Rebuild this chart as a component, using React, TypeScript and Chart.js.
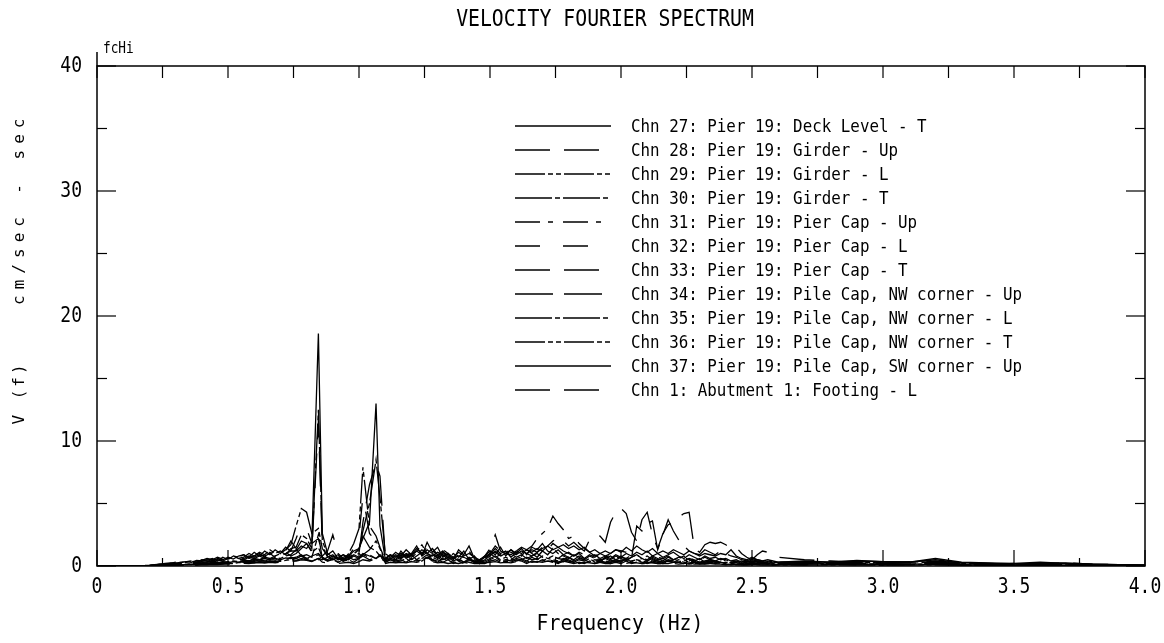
import React, { useEffect, useRef } from 'react';
import { Chart, registerables } from 'chart.js';

Chart.register(...registerables);

// Frequency grid (Hz)
const freqHz = [
  0, 0.1, 0.2, 0.22, 0.24, 0.26, 0.28, 0.3, 0.32, 0.34,
  0.36, 0.38, 0.4, 0.42, 0.44, 0.46, 0.48, 0.5, 0.52, 0.54,
  0.56, 0.58, 0.6, 0.62, 0.64, 0.66, 0.68, 0.7, 0.72, 0.74,
  0.76, 0.78, 0.8, 0.82, 0.845, 0.86, 0.88, 0.9, 0.92, 0.94,
  0.96, 0.98, 1.0, 1.015, 1.04, 1.065, 1.08, 1.1, 1.12, 1.14,
  1.16, 1.18, 1.2, 1.22, 1.24, 1.26, 1.28, 1.3, 1.32, 1.34,
  1.36, 1.38, 1.4, 1.42, 1.44, 1.46, 1.48, 1.5, 1.52, 1.54,
  1.56, 1.58, 1.6, 1.62, 1.64, 1.66, 1.68, 1.7, 1.72, 1.74,
  1.76, 1.78, 1.8, 1.82, 1.84, 1.86, 1.88, 1.9, 1.92, 1.94,
  1.96, 1.98, 2.0, 2.02, 2.04, 2.06, 2.08, 2.1, 2.12, 2.14,
  2.16, 2.18, 2.2, 2.22, 2.24, 2.26, 2.28, 2.3, 2.32, 2.34,
  2.36, 2.38, 2.4, 2.42, 2.44, 2.46, 2.48, 2.5, 2.52, 2.54,
  2.56, 2.58, 2.6, 2.7, 2.8, 2.9, 3.0, 3.1, 3.2, 3.3,
  3.4, 3.5, 3.6, 3.7, 3.8, 3.9, 4.0,
];

// Chn 27: Pier 19: Deck Level - T
const chn27 = [
  0, 0, 0.05, 0.1, 0.15, 0.2, 0.25, 0.2, 0.3, 0.35,
  0.3, 0.45, 0.4, 0.5, 0.35, 0.6, 0.5, 0.7, 0.55, 0.8,
  0.9, 0.7, 1.1, 0.8, 1.2, 0.9, 1.3, 1.0, 1.5, 1.2,
  1.2, 1.6, 1.4, 2.0, 18.6, 2.6, 1.0, 0.7, 0.9, 0.5,
  0.8, 1.2, 1.4, 2.2, 3.5, 13.0, 3.2, 0.6, 0.9, 0.5,
  1.2, 0.7, 1.0, 1.6, 0.8, 1.9, 1.1, 1.5, 0.7, 1.0,
  0.5, 1.3, 0.9, 1.6, 0.6, 0.4, 0.8, 1.2, 0.9, 1.5,
  0.8, 1.3, 1.0, 1.4, 0.9, 1.5, 1.3, 1.8, 1.2, 1.0,
  1.3, 0.9, 1.1, 0.8, 1.0, 0.6, 0.9, 0.7, 1.0, 0.8,
  0.6, 0.9, 0.7, 1.0, 0.8, 1.1, 0.9, 1.2, 0.8, 1.0,
  0.7, 0.9, 1.1, 0.8, 0.6, 0.9, 0.7, 0.5, 0.8, 0.6,
  0.7, 0.5, 0.6, 0.4, 0.5, 0.3, 0.4, 0.3, 0.4, 0.3,
  0.35, 0.25, 0.3, 0.35, 0.3, 0.4, 0.35, 0.3, 0.5, 0.25,
  0.2, 0.15, 0.2, 0.25, 0.15, 0.1, 0.05,
];

// Chn 28: Pier 19: Girder - Up
const chn28 = [
  0, 0, 0.02, 0.04, 0.05, 0.08, 0.1, 0.08, 0.12, 0.15,
  0.1, 0.2, 0.15, 0.25, 0.2, 0.3, 0.25, 0.35, 0.3, 0.4,
  0.5, 0.4, 0.6, 0.5, 0.7, 0.6, 0.8, 0.7, 1.2, 2.0,
  1.4, 0.8, 0.6, 0.9, 0.5, 0.8, 1.2, 2.5, 1.0, 0.6,
  0.5, 0.8, 0.6, 0.9, 0.7, 0.5, 0.8, 0.6, 0.9, 0.7,
  1.0, 0.8, 1.2, 0.9, 1.3, 1.0, 0.8, 1.1, 0.9, 0.7,
  0.9, 0.6, 0.8, 1.0, 0.7, 0.5, 0.8, 1.4, 2.5, 1.2,
  1.0, 1.3, 0.9, 1.2, 1.0, 0.8, 1.1, 1.4, 1.6, 2.0,
  2.3, 2.0, 1.6, 1.9, 1.5, 1.2, 2.1, 2.5, 2.4, 1.9,
  3.5, 4.3, 4.6, 4.2, 2.7, 2.0, 3.7, 4.3, 2.5, 1.4,
  2.6, 3.3, 3.5, 3.9, 4.2, 4.3, 1.4, 1.1, 1.7, 1.9,
  1.8, 1.9, 1.7, 1.4, 1.5, 1.0, 0.7, 0.5, 0.9, 1.2,
  1.1, 0.9, 0.7, 0.5, 0.4, 0.3, 0.35, 0.3, 0.4, 0.25,
  0.2, 0.15, 0.2, 0.25, 0.15, 0.1, 0.05,
];

// Chn 29: Pier 19: Girder - L
const chn29 = [
  0, 0, 0.04, 0.08, 0.15, 0.12, 0.2, 0.3, 0.25, 0.35,
  0.4, 0.3, 0.45, 0.6, 0.5, 0.7, 0.55, 0.6, 0.8, 0.7,
  0.9, 0.6, 0.8, 1.0, 0.7, 1.1, 0.8, 1.0, 1.3, 1.7,
  3.2, 4.6, 4.3, 2.6, 3.0, 1.4, 0.8, 0.5, 0.7, 0.4,
  1.0, 1.8, 3.0, 7.9, 3.2, 2.4, 1.5, 0.5, 0.8, 0.6,
  1.0, 0.6, 0.9, 0.5, 0.8, 1.1, 0.6, 0.9, 0.5, 0.7,
  0.4, 0.6, 0.3, 0.7, 0.5, 0.3, 0.4, 0.6, 0.8, 0.5,
  0.7, 0.5, 0.8, 0.6, 0.4, 0.7, 0.5, 0.8, 0.6, 0.5,
  0.4, 0.6, 0.5, 0.3, 0.5, 0.4, 0.6, 0.3, 0.5, 0.4,
  0.3, 0.5, 0.4, 0.6, 0.3, 0.5, 0.4, 0.3, 0.5, 0.4,
  0.3, 0.4, 0.3, 0.5, 0.3, 0.2, 0.4, 0.3, 0.2, 0.3,
  0.2, 0.3, 0.2, 0.3, 0.2, 0.15, 0.2, 0.25, 0.2, 0.15,
  0.2, 0.15, 0.2, 0.15, 0.2, 0.15, 0.1, 0.15, 0.2, 0.1,
  0.1, 0.08, 0.1, 0.06, 0.05, 0.04, 0.03,
];

// Chn 30: Pier 19: Girder - T
const chn30 = [
  0, 0, 0.05, 0.08, 0.12, 0.15, 0.2, 0.25, 0.2, 0.3,
  0.4, 0.3, 0.5, 0.45, 0.6, 0.4, 0.7, 0.5, 0.8, 0.6,
  0.7, 1.0, 0.8, 1.1, 0.9, 1.3, 1.0, 1.2, 0.9, 1.4,
  1.5, 2.5, 2.2, 1.4, 12.5, 2.0, 0.9, 1.2, 0.6, 0.9,
  0.7, 1.0, 1.3, 2.8, 5.0, 8.5, 5.5, 1.0, 0.7, 1.1,
  0.8, 1.3, 0.9, 1.2, 1.7, 1.0, 1.4, 0.9, 1.2, 0.6,
  1.0, 0.7, 1.2, 0.5, 0.8, 0.3, 0.6, 0.9, 1.4, 1.0,
  1.2, 0.7, 1.1, 0.8, 1.3, 1.0, 0.7, 1.2, 0.9, 1.4,
  1.0, 0.8, 0.6, 0.9, 0.7, 0.5, 0.8, 0.6, 0.4, 0.7,
  0.5, 0.8, 0.6, 0.4, 0.7, 0.9, 0.6, 0.5, 0.8, 0.6,
  0.4, 0.7, 0.5, 0.6, 0.8, 0.5, 0.4, 0.6, 0.3, 0.5,
  0.4, 0.3, 0.5, 0.3, 0.4, 0.2, 0.3, 0.4, 0.3, 0.2,
  0.3, 0.2, 0.25, 0.3, 0.2, 0.3, 0.25, 0.35, 0.3, 0.2,
  0.15, 0.2, 0.1, 0.15, 0.1, 0.08, 0.05,
];

// Chn 31: Pier 19: Pier Cap - Up
const chn31 = [
  0, 0, 0.02, 0.03, 0.05, 0.07, 0.06, 0.1, 0.08, 0.12,
  0.15, 0.12, 0.18, 0.2, 0.15, 0.25, 0.2, 0.3, 0.25, 0.35,
  0.3, 0.4, 0.35, 0.5, 0.4, 0.55, 0.45, 0.6, 0.5, 0.7,
  0.6, 0.8, 0.5, 0.7, 0.9, 0.6, 0.8, 0.5, 0.7, 0.9,
  0.6, 0.8, 1.0, 0.7, 0.9, 0.6, 0.8, 0.5, 0.9, 1.1,
  0.8, 1.2, 0.9, 1.4, 1.0, 1.5, 1.2, 0.9, 1.3, 1.0,
  0.7, 1.1, 0.8, 1.2, 0.6, 0.4, 0.7, 1.0, 1.6, 1.2,
  1.0, 1.4, 1.2, 1.5, 1.3, 1.6, 2.2, 2.6, 3.0, 4.0,
  3.4, 2.9, 2.2, 2.4, 1.8, 1.4, 1.1, 0.8, 1.0, 0.7,
  0.9, 0.6, 0.8, 0.5, 0.7, 0.9, 0.6, 0.8, 0.5, 0.7,
  0.6, 0.8, 0.5, 0.7, 0.6, 0.4, 0.6, 0.5, 0.7, 0.5,
  0.4, 0.6, 0.5, 0.4, 0.3, 0.4, 0.3, 0.5, 0.4, 0.3,
  0.3, 0.4, 0.3, 0.25, 0.3, 0.2, 0.3, 0.25, 0.2, 0.15,
  0.15, 0.1, 0.15, 0.1, 0.08, 0.05, 0.03,
];

// Chn 32: Pier 19: Pier Cap - L
const chn32 = [
  0, 0, 0.02, 0.05, 0.08, 0.1, 0.12, 0.15, 0.2, 0.18,
  0.25, 0.3, 0.25, 0.35, 0.4, 0.3, 0.45, 0.5, 0.4, 0.55,
  0.5, 0.7, 0.6, 0.8, 0.6, 0.9, 0.7, 0.8, 1.0, 1.2,
  2.2, 3.3, 3.0, 1.8, 2.2, 1.0, 0.6, 0.8, 0.5, 0.6,
  0.8, 1.4, 2.4, 5.6, 2.6, 2.0, 1.2, 0.4, 0.6, 0.5,
  0.7, 0.5, 0.8, 0.4, 0.6, 0.9, 0.5, 0.7, 0.4, 0.6,
  0.3, 0.5, 0.3, 0.6, 0.4, 0.2, 0.3, 0.5, 0.6, 0.4,
  0.5, 0.4, 0.6, 0.5, 0.3, 0.5, 0.4, 0.6, 0.5, 0.4,
  0.3, 0.5, 0.4, 0.3, 0.4, 0.3, 0.5, 0.3, 0.4, 0.3,
  0.3, 0.4, 0.3, 0.5, 0.3, 0.4, 0.3, 0.2, 0.4, 0.3,
  0.2, 0.3, 0.3, 0.4, 0.2, 0.2, 0.3, 0.2, 0.2, 0.3,
  0.2, 0.2, 0.15, 0.2, 0.15, 0.1, 0.15, 0.2, 0.15, 0.1,
  0.15, 0.1, 0.15, 0.1, 0.15, 0.1, 0.1, 0.1, 0.15, 0.08,
  0.08, 0.06, 0.08, 0.05, 0.04, 0.03, 0.02,
];

// Chn 33: Pier 19: Pier Cap - T
const chn33 = [
  0, 0, 0.03, 0.06, 0.1, 0.12, 0.18, 0.15, 0.22, 0.25,
  0.2, 0.3, 0.35, 0.3, 0.45, 0.5, 0.4, 0.6, 0.5, 0.7,
  0.6, 0.8, 0.7, 0.9, 0.8, 1.0, 0.7, 0.9, 1.1, 0.8,
  1.0, 1.4, 1.8, 1.2, 11.6, 1.6, 0.7, 0.9, 0.5, 0.7,
  0.9, 0.6, 1.0, 3.5, 6.5, 8.2, 7.2, 0.8, 0.5, 0.8,
  0.6, 0.9, 0.5, 0.8, 1.1, 0.7, 1.0, 0.6, 0.9, 0.5,
  0.7, 0.4, 0.9, 0.6, 0.3, 0.5, 0.7, 1.0, 0.7, 0.9,
  0.6, 1.0, 0.7, 0.9, 0.6, 0.8, 1.0, 0.7, 0.5, 0.8,
  0.6, 0.9, 0.7, 0.5, 0.8, 0.6, 0.4, 0.7, 0.5, 0.6,
  0.8, 0.5, 0.7, 0.6, 0.9, 0.5, 0.6, 0.4, 0.7, 0.5,
  0.6, 0.4, 0.5, 0.7, 0.4, 0.6, 0.5, 0.3, 0.4, 0.5,
  0.3, 0.4, 0.3, 0.2, 0.3, 0.4, 0.2, 0.3, 0.2, 0.3,
  0.2, 0.3, 0.2, 0.25, 0.2, 0.15, 0.2, 0.25, 0.2, 0.15,
  0.1, 0.15, 0.1, 0.12, 0.08, 0.06, 0.04,
];

// Chn 34: Pier 19: Pile Cap, NW corner - Up
const chn34 = [
  0, 0, 0.01, 0.02, 0.04, 0.05, 0.07, 0.06, 0.09, 0.1,
  0.12, 0.1, 0.15, 0.13, 0.18, 0.2, 0.17, 0.22, 0.2, 0.25,
  0.28, 0.3, 0.25, 0.35, 0.3, 0.4, 0.35, 0.45, 0.4, 0.5,
  0.45, 0.6, 0.5, 0.4, 0.6, 0.5, 0.7, 0.4, 0.6, 0.5,
  0.7, 0.5, 0.6, 0.8, 0.5, 0.7, 0.6, 0.4, 0.6, 0.8,
  0.6, 0.9, 0.7, 1.0, 0.8, 0.6, 0.9, 0.7, 1.0, 0.8,
  0.6, 0.9, 0.7, 0.5, 0.4, 0.3, 0.5, 0.8, 1.2, 0.9,
  0.8, 1.1, 0.9, 1.2, 1.0, 1.3, 1.1, 1.5, 1.3, 1.8,
  1.5, 1.2, 1.0, 0.8, 1.1, 0.9, 0.7, 0.9, 0.6, 0.8,
  1.0, 1.3, 1.2, 1.1, 0.6, 3.2, 2.8, 3.4, 3.6, 1.3,
  2.5, 3.7, 2.8, 2.1, 1.6, 1.2, 1.0, 0.9, 1.3, 1.1,
  0.9, 1.2, 1.0, 0.8, 0.7, 0.5, 0.4, 0.6, 0.5, 0.4,
  0.35, 0.3, 0.25, 0.3, 0.25, 0.3, 0.2, 0.25, 0.3, 0.2,
  0.15, 0.12, 0.15, 0.1, 0.08, 0.06, 0.04,
];

// Chn 35: Pier 19: Pile Cap, NW corner - L
const chn35 = [
  0, 0, 0.02, 0.04, 0.06, 0.1, 0.08, 0.12, 0.15, 0.12,
  0.2, 0.18, 0.25, 0.2, 0.3, 0.25, 0.35, 0.3, 0.4, 0.35,
  0.45, 0.4, 0.55, 0.5, 0.6, 0.5, 0.7, 0.6, 0.8, 0.9,
  1.3, 2.0, 1.8, 1.1, 1.5, 0.7, 0.4, 0.6, 0.3, 0.5,
  0.6, 0.9, 1.4, 2.4, 1.5, 1.2, 0.8, 0.3, 0.5, 0.4,
  0.5, 0.3, 0.6, 0.4, 0.5, 0.7, 0.4, 0.5, 0.3, 0.5,
  0.2, 0.4, 0.2, 0.5, 0.3, 0.2, 0.2, 0.4, 0.5, 0.3,
  0.4, 0.3, 0.5, 0.4, 0.2, 0.4, 0.3, 0.5, 0.4, 0.3,
  0.2, 0.4, 0.3, 0.2, 0.3, 0.2, 0.4, 0.2, 0.3, 0.2,
  0.2, 0.3, 0.2, 0.4, 0.2, 0.3, 0.2, 0.2, 0.3, 0.2,
  0.2, 0.2, 0.3, 0.3, 0.2, 0.15, 0.2, 0.15, 0.2, 0.2,
  0.15, 0.15, 0.1, 0.15, 0.1, 0.1, 0.1, 0.15, 0.1, 0.08,
  0.1, 0.08, 0.1, 0.08, 0.1, 0.08, 0.06, 0.08, 0.1, 0.06,
  0.05, 0.05, 0.06, 0.04, 0.03, 0.02, 0.02,
];

// Chn 36: Pier 19: Pile Cap, NW corner - T
const chn36 = [
  0, 0, 0.01, 0.03, 0.05, 0.04, 0.06, 0.08, 0.07, 0.1,
  0.12, 0.1, 0.14, 0.18, 0.15, 0.2, 0.18, 0.24, 0.2, 0.28,
  0.25, 0.3, 0.28, 0.35, 0.3, 0.4, 0.35, 0.38, 0.45, 0.5,
  0.6, 0.8, 0.9, 0.7, 2.5, 0.6, 0.4, 0.5, 0.3, 0.4,
  0.5, 0.3, 0.6, 0.9, 1.3, 2.0, 1.4, 0.3, 0.5, 0.3,
  0.4, 0.6, 0.3, 0.5, 0.4, 0.7, 0.5, 0.3, 0.6, 0.4,
  0.3, 0.5, 0.4, 0.3, 0.2, 0.2, 0.3, 0.5, 0.7, 0.4,
  0.5, 0.6, 0.4, 0.5, 0.7, 0.5, 0.6, 0.4, 0.6, 0.8,
  0.6, 0.5, 0.7, 0.4, 0.6, 0.5, 0.3, 0.5, 0.4, 0.6,
  0.4, 0.5, 0.3, 0.6, 0.4, 0.5, 0.3, 0.4, 0.6, 0.4,
  0.3, 0.5, 0.4, 0.3, 0.5, 0.3, 0.4, 0.2, 0.3, 0.4,
  0.3, 0.2, 0.3, 0.2, 0.25, 0.2, 0.15, 0.2, 0.15, 0.2,
  0.15, 0.1, 0.15, 0.2, 0.15, 0.2, 0.15, 0.1, 0.15, 0.1,
  0.08, 0.1, 0.06, 0.05, 0.04, 0.03, 0.02,
];

// Chn 37: Pier 19: Pile Cap, SW corner - Up
const chn37 = [
  0, 0, 0.02, 0.03, 0.05, 0.04, 0.08, 0.1, 0.09, 0.12,
  0.15, 0.14, 0.2, 0.18, 0.25, 0.2, 0.3, 0.26, 0.35, 0.3,
  0.4, 0.35, 0.45, 0.5, 0.4, 0.55, 0.6, 0.5, 0.65, 0.6,
  0.7, 0.9, 0.6, 0.8, 1.0, 0.7, 0.5, 0.8, 0.6, 0.4,
  0.6, 0.9, 0.7, 1.0, 0.8, 0.6, 0.9, 0.5, 0.7, 0.9,
  0.7, 1.0, 0.8, 1.2, 0.9, 1.3, 1.0, 0.8, 1.1, 0.9,
  0.6, 0.8, 0.7, 0.5, 0.3, 0.5, 0.7, 0.9, 1.1, 0.8,
  1.0, 0.9, 1.2, 1.0, 1.3, 1.1, 1.4, 1.2, 1.6, 1.3,
  1.5, 1.7, 1.4, 1.6, 1.3, 1.5, 1.1, 1.3, 1.0, 1.2,
  1.0, 1.3, 1.1, 1.5, 1.2, 1.6, 1.3, 1.1, 1.4, 1.0,
  1.2, 1.0, 1.3, 1.1, 0.9, 1.2, 1.0, 0.8, 1.0, 0.9,
  0.8, 1.0, 0.9, 1.3, 0.8, 0.6, 0.5, 0.7, 0.5, 0.4,
  0.5, 0.4, 0.3, 0.4, 0.3, 0.45, 0.35, 0.3, 0.6, 0.3,
  0.25, 0.2, 0.3, 0.2, 0.15, 0.1, 0.08,
];

// Chn 1: Abutment 1: Footing - L
const chn1 = [
  0, 0, 0.01, 0.02, 0.03, 0.05, 0.04, 0.06, 0.08, 0.07,
  0.1, 0.09, 0.12, 0.1, 0.14, 0.12, 0.16, 0.15, 0.18, 0.2,
  0.22, 0.2, 0.25, 0.28, 0.24, 0.3, 0.26, 0.32, 0.3, 0.35,
  0.4, 0.5, 0.45, 0.35, 0.6, 0.3, 0.25, 0.3, 0.2, 0.25,
  0.3, 0.2, 0.35, 0.5, 0.4, 0.6, 0.45, 0.2, 0.3, 0.25,
  0.3, 0.25, 0.35, 0.3, 0.4, 0.3, 0.35, 0.25, 0.3, 0.2,
  0.25, 0.2, 0.3, 0.2, 0.15, 0.2, 0.25, 0.3, 0.35, 0.25,
  0.3, 0.25, 0.35, 0.3, 0.4, 0.3, 0.35, 0.3, 0.4, 0.35,
  0.3, 0.35, 0.25, 0.3, 0.2, 0.3, 0.25, 0.2, 0.3, 0.25,
  0.2, 0.3, 0.25, 0.2, 0.3, 0.25, 0.2, 0.3, 0.25, 0.2,
  0.2, 0.25, 0.2, 0.15, 0.2, 0.25, 0.15, 0.2, 0.15, 0.2,
  0.15, 0.2, 0.15, 0.1, 0.15, 0.1, 0.12, 0.1, 0.15, 0.1,
  0.1, 0.08, 0.1, 0.12, 0.1, 0.15, 0.12, 0.1, 0.12, 0.08,
  0.06, 0.05, 0.06, 0.04, 0.03, 0.02, 0.02,
];

const seriesLabels = [
  'Chn 27: Pier 19: Deck Level - T',
  'Chn 28: Pier 19: Girder - Up',
  'Chn 29: Pier 19: Girder - L',
  'Chn 30: Pier 19: Girder - T',
  'Chn 31: Pier 19: Pier Cap - Up',
  'Chn 32: Pier 19: Pier Cap - L',
  'Chn 33: Pier 19: Pier Cap - T',
  'Chn 34: Pier 19: Pile Cap, NW corner - Up',
  'Chn 35: Pier 19: Pile Cap, NW corner - L',
  'Chn 36: Pier 19: Pile Cap, NW corner - T',
  'Chn 37: Pier 19: Pile Cap, SW corner - Up',
  'Chn 1: Abutment 1: Footing - L',
];
const seriesValues = [chn27, chn28, chn29, chn30, chn31, chn32, chn33, chn34, chn35, chn36, chn37, chn1];
const seriesDash: number[][] = [
  [],
  [35, 14],
  [30, 3, 5, 3, 5, 3],
  [37, 3, 5, 3],
  [25, 8, 5, 10],
  [25, 23],
  [35, 14],
  [38, 11],
  [37, 3, 5, 3],
  [30, 3, 5, 3, 5, 3],
  [],
  [35, 14],
];

const xMajorTicks = [0, 0.5, 1.0, 1.5, 2.0, 2.5, 3.0, 3.5, 4.0];
const xTickLabels = ['0', '0.5', '1.0', '1.5', '2.0', '2.5', '3.0', '3.5', '4.0'];
const xMinorTicks = [0.25, 0.75, 1.25, 1.75, 2.25, 2.75, 3.25, 3.75];
const yMajorTicks = [0, 10, 20, 30, 40];
const yTickLabels = ['0', '10', '20', '30', '40'];
const yMinorTicks = [5, 15, 25, 35];

const titleText = 'VELOCITY FOURIER SPECTRUM';
const xAxisTitle = 'Frequency (Hz)';
const yAxisTitleParts = ['V (f)', 'cm/sec', '-', 'sec'];
const cornerNote = 'fcHi';

const MONO = '"DejaVu Sans Mono", "Liberation Mono", monospace';

function drawText(ctx: any, text: string, x: number, y: number, size: number, sx: number, align: string) {
  ctx.save();
  ctx.translate(x, y);
  ctx.scale(sx, 1);
  ctx.font = `${size}px ${MONO}`;
  ctx.textAlign = align;
  ctx.textBaseline = 'middle';
  ctx.fillText(text, 0, 0);
  ctx.restore();
}

const decorPlugin = {
  id: 'decor',
  afterDatasetsDraw(chart: any) {
    const { ctx, chartArea: a, scales } = chart;
    const xs = scales.x;
    const ys = scales.y;
    ctx.save();
    ctx.strokeStyle = '#000';
    ctx.fillStyle = '#000';
    ctx.lineWidth = 1.5;
    ctx.setLineDash([]);
    ctx.strokeRect(a.left, a.top, a.right - a.left, a.bottom - a.top);
    ctx.beginPath();
    ctx.moveTo(a.left, a.top);
    ctx.lineTo(a.left, a.top - 14);
    ctx.stroke();

    ctx.lineWidth = 1.2;
    const tick = (x1: number, y1: number, x2: number, y2: number) => {
      ctx.beginPath();
      ctx.moveTo(x1, y1);
      ctx.lineTo(x2, y2);
      ctx.stroke();
    };
    xMajorTicks.forEach((v) => {
      const px = xs.getPixelForValue(v);
      tick(px, a.bottom, px, a.bottom - 16);
      tick(px, a.top, px, a.top + 12);
    });
    xMinorTicks.forEach((v) => {
      const px = xs.getPixelForValue(v);
      tick(px, a.bottom, px, a.bottom - 8);
      tick(px, a.top, px, a.top + 12);
    });
    yMajorTicks.forEach((v) => {
      const py = ys.getPixelForValue(v);
      tick(a.left, py, a.left + 19, py);
      tick(a.right, py, a.right - 19, py);
    });
    yMinorTicks.forEach((v) => {
      const py = ys.getPixelForValue(v);
      tick(a.left, py, a.left + 10, py);
      tick(a.right, py, a.right - 10, py);
    });

    // tick labels
    xMajorTicks.forEach((v, i) => {
      drawText(ctx, xTickLabels[i], xs.getPixelForValue(v), a.bottom + 21, 22, 0.82, 'center');
    });
    yMajorTicks.forEach((v, i) => {
      drawText(ctx, yTickLabels[i], a.left - 15, ys.getPixelForValue(v), 22, 0.82, 'right');
    });

    drawText(ctx, titleText, 605, 20, 23, 0.86, 'center');
    drawText(ctx, xAxisTitle, 620, 624, 22, 0.9, 'center');
    drawText(ctx, cornerNote, a.left + 6, a.top - 17, 15, 0.85, 'left');

    // y axis title (rotated, letter-spaced)
    const yCenters = [393, 258, 186, 136];
    ctx.font = `16px ${MONO}`;
    yAxisTitleParts.forEach((t, i) => {
      ctx.save();
      ctx.translate(20, yCenters[i]);
      ctx.rotate(-Math.PI / 2);
      ctx.textAlign = 'center';
      ctx.textBaseline = 'middle';
      (ctx as any).letterSpacing = i === 0 ? '3px' : '6px';
      ctx.fillText(t, 0, 0);
      ctx.restore();
    });

    // legend
    seriesLabels.forEach((label, i) => {
      const yy = 126 + 24 * i;
      ctx.lineWidth = 1.3;
      ctx.setLineDash(seriesDash[i]);
      ctx.beginPath();
      ctx.moveTo(515, yy);
      ctx.lineTo(611, yy);
      ctx.stroke();
      ctx.setLineDash([]);
      drawText(ctx, label, 631, yy + 1, 18, 0.88, 'left');
    });
    ctx.restore();
  },
};

export default function App() {
  const ref = useRef<HTMLCanvasElement | null>(null);
  useEffect(() => {
    document.body.style.margin = '0';
    const canvas = ref.current;
    if (!canvas) return;
    const datasets = seriesValues.map((vals, i) => ({
      label: seriesLabels[i],
      data: freqHz.map((f, k) => ({ x: f, y: vals[k] })),
      borderColor: '#000',
      backgroundColor: '#000',
      borderWidth: 1.3,
      borderDash: seriesDash[i],
      pointRadius: 0,
      tension: 0,
      fill: false,
    }));
    const chart = new Chart(canvas, {
      type: 'line',
      data: { datasets },
      options: {
        responsive: false,
        animation: false,
        layout: { padding: { left: 97, top: 66, right: 19, bottom: 77 } },
        plugins: {
          legend: { display: false },
          tooltip: { enabled: false },
          title: { display: false },
        },
        scales: {
          x: { type: 'linear', min: 0, max: 4, display: false },
          y: { type: 'linear', min: 0, max: 40, display: false },
        },
      },
      plugins: [decorPlugin],
    });
    return () => chart.destroy();
  }, []);
  return (
    <div style={{ width: 1164, height: 643, background: '#fff' }}>
      <canvas ref={ref} width={1164} height={643} style={{ display: 'block' }} />
    </div>
  );
}
